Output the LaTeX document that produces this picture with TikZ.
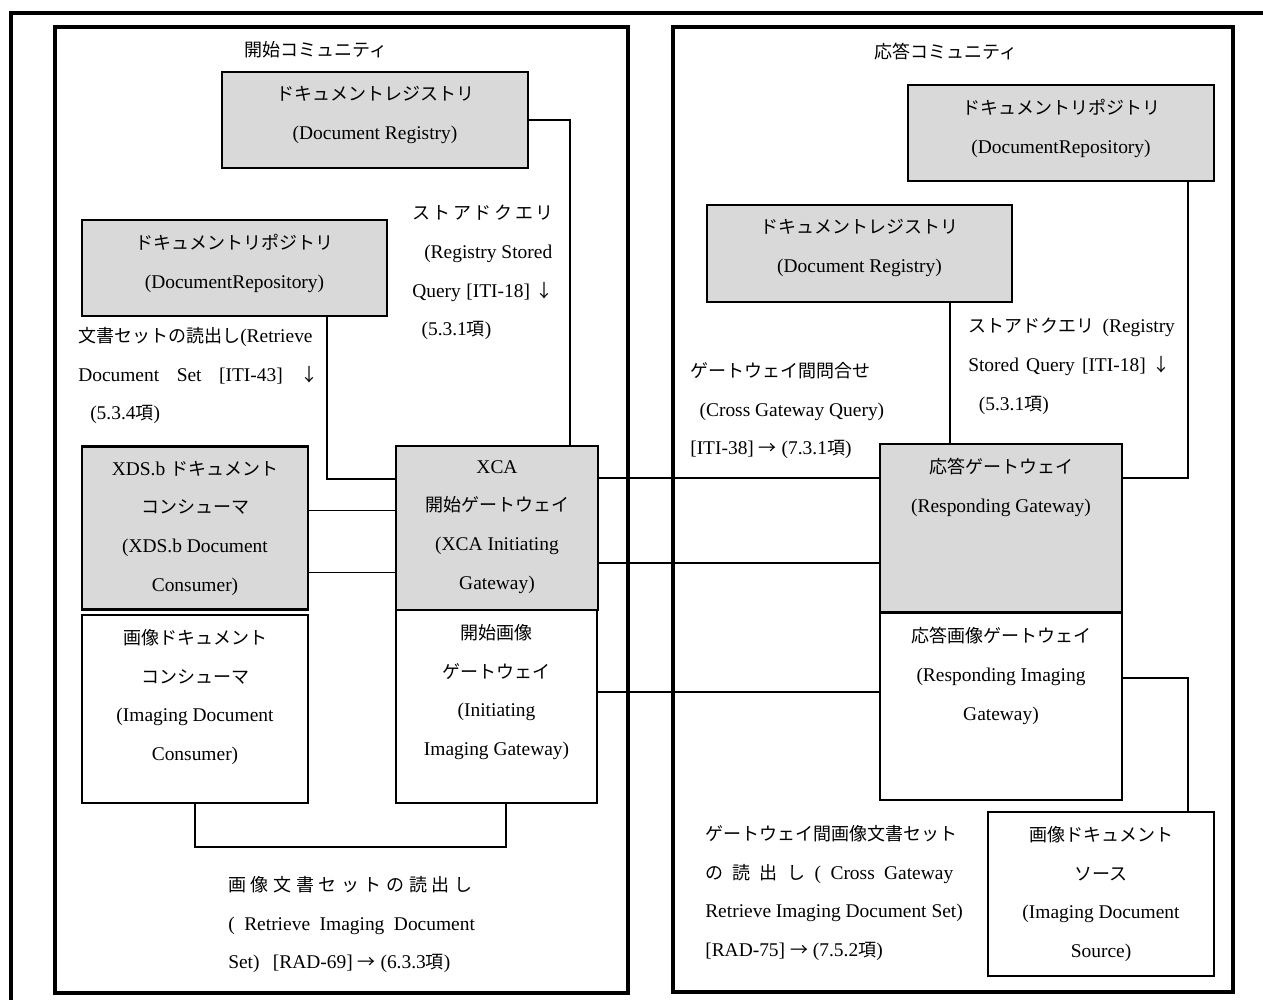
\documentclass[tikz,border=0pt]{standalone}
\usepackage{fontspec}
\setmainfont[Scale=1.08]{Liberation Serif}
\newfontfamily\jpfont{Noto Sans CJK JP}
\newcommand{\jp}[1]{{\jpfont #1}}
\newcommand{\spread}[2]{\makebox[#1][s]{#2}}
\usetikzlibrary{positioning}
\definecolor{boxgray}{RGB}{217,217,217}

\begin{document}
\begin{tikzpicture}[x=0.75pt,y=-0.75pt,
  every node/.style={font=\fontsize{13.5}{29}\selectfont, inner sep=0pt},
  box/.style={draw, line width=2pt, outer sep=0pt},
  gbox/.style={box, fill=boxgray},
  btxt/.style={align=center},
  lbl/.style={align=left, anchor=north west},
  conn/.style={line width=1.1pt}]
\useasboundingbox (0,0) rectangle (1263,1000);
% 0. frames
\draw[line width=3.4pt] (1263,13) -- (11,13) -- (11,1000);
\draw[line width=3pt] (55,27) rectangle (628,993);
\draw[line width=3pt] (673,27) rectangle (1233,992);
\node (titL) at (316,50) {\jp{開始コミュニティ}};
\node (titR) at (946,52) {\jp{応答コミュニティ}};

% 1. 開始コミュニティ
\node[gbox, minimum width=229.5pt, minimum height=72pt] (regL) at (375,120) {};
\node[btxt, below=10.5pt of regL.north] (regLt) {\jp{ドキュメントレジストリ}\\(Document Registry)};
\node[gbox, minimum width=228.75pt, minimum height=72pt] (repL) at (234.5,268) {};
\node[btxt, below=10.5pt of repL.north] (repLt) {\jp{ドキュメントリポジトリ}\\(DocumentRepository)};
\node[gbox, minimum width=169.5pt, minimum height=122.25pt] (xds) at (195,528) {};
\node[btxt, below=10.5pt of xds.north] (xdst) {XDS.b \jp{ドキュメント}\\\jp{コンシューマ}\\(XDS.b Document\\Consumer)};
\node[box, minimum width=169.5pt, minimum height=141pt] (ic) at (195,709) {};
\node[btxt, below=10.5pt of ic.north] (ict) {\jp{画像ドキュメント}\\\jp{コンシューマ}\\(Imaging Document\\Consumer)};
\node[gbox, minimum width=151.5pt, minimum height=123pt] (xca) at (497,528) {};
\node[btxt, below=10.5pt of xca.north] (xcat) {XCA\\\jp{開始ゲートウェイ}\\(XCA Initiating\\Gateway)};
\node[box, minimum width=150.75pt, minimum height=144.75pt] (ig) at (496.5,706.5) {};
\node[btxt, below=10.5pt of ig.north] (igt) {\jp{開始画像}\\\jp{ゲートウェイ}\\(Initiating\\Imaging Gateway)};

\node[lbl] (qL) at (412,205) {\spread{106pt}{\jp{ス\hfill ト\hfill ア\hfill ド\hfill ク\hfill エ\hfill リ}}\\
  \hspace{9pt}(Registry Stored\\
  \spread{106pt}{Query [ITI-18] \jp{↓}}\\
  \hspace{7pt}(5.3.1\jp{項})};
\node[lbl] (rsL) at (78,327) {\jp{文書セットの読出し}(Retrieve\\
  \spread{180pt}{Document\hfill Set\hfill [ITI-43]\hfill\jp{↓}}\\
  \hspace{9pt}(5.3.4\jp{項})};
\node[lbl] (rdL) at (228,876) {\spread{183pt}{\jp{画\hfill 像\hfill 文\hfill 書\hfill セ\hfill ッ\hfill ト\hfill の\hfill 読\hfill 出\hfill し}}\\
  \spread{185pt}{(\hfill Retrieve\hfill Imaging\hfill Document}\\
  Set)\hspace{10pt}[RAD-69] \jp{→} (6.3.3\jp{項})};

\draw[conn] (regL.east) -| ([xshift=-21pt]xca.north east);
\draw[conn] ([xshift=-45pt]repL.south east) |- ([yshift=36.75pt]xca.west);
\draw[conn] ([yshift=13pt]xds.east) -- ([yshift=13pt]xca.west);
\draw[conn] ([yshift=-33.5pt]xds.east) -- ([yshift=-33.5pt]xca.west);
\draw[conn] (ic.south) -- ++(0,44) -| ([xshift=7pt]ig.south);

% 2. 応答コミュニティ
\node[gbox, minimum width=229.5pt, minimum height=72pt] (repR) at (1061,133) {};
\node[btxt, below=10.5pt of repR.north] (repRt) {\jp{ドキュメントリポジトリ}\\(DocumentRepository)};
\node[gbox, minimum width=228.75pt, minimum height=72.75pt] (regR) at (859.5,253.5) {};
\node[btxt, below=10.5pt of regR.north] (regRt) {\jp{ドキュメントレジストリ}\\(Document Registry)};
\node[gbox, minimum width=181.5pt, minimum height=126pt] (rgw) at (1001,528) {};
\node[btxt, below=10.5pt of rgw.north] (rgwt) {\jp{応答ゲートウェイ}\\(Responding Gateway)};
\node[box, minimum width=181.5pt, minimum height=140.25pt] (rig) at (1001,706.5) {};
\node[btxt, below=10.5pt of rig.north] (rigt) {\jp{応答画像ゲートウェイ}\\(Responding Imaging\\Gateway)};
\node[box, minimum width=169.5pt, minimum height=123pt] (src) at (1101,894) {};
\node[btxt, below=10.5pt of src.north] (srct) {\jp{画像ドキュメント}\\\jp{ソース}\\(Imaging Document\\Source)};

\node[lbl] (cqR) at (690,362) {\jp{ゲートウェイ間問合せ}\\
  \hspace{7pt}(Cross Gateway Query)\\
  {}[ITI-38] \jp{→} (7.3.1\jp{項})};
\node[lbl] (sqR) at (968,318) {\spread{155pt}{\jp{ストアドクエリ}\hfill(Registry}\\
  \spread{152pt}{Stored Query [ITI-18] \jp{↓}}\\
  \hspace{8pt}(5.3.1\jp{項})};
\node[lbl] (crR) at (705,825) {\jp{ゲートウェイ間画像文書セット}\\
  \spread{186pt}{\jp{の\hfill 読\hfill 出\hfill し}\hfill (\hfill Cross\hfill Gateway}\\
  Retrieve Imaging Document Set)\\
  {}[RAD-75] \jp{→} (7.5.2\jp{項})};

\draw[conn] ([xshift=-46.5pt]regR.south east) -- ([xshift=-38.25pt]rgw.north);
\draw[conn] ([xshift=-19.5pt]repR.south east) |- ([yshift=37.5pt]rgw.east);
\draw[conn] ([yshift=21.4pt]rig.east) -| ([xshift=-19.5pt]src.north east);

% 3. ゲートウェイ間
\draw[conn] ([yshift=37.5pt]xca.east) -- ([yshift=37.5pt]rgw.west);
\draw[conn] ([yshift=-26.25pt]xca.east) -- ([yshift=-26.25pt]rgw.west);
\draw[conn] ([yshift=10.9pt]ig.east) -- ([yshift=10.9pt]rig.west);
\end{tikzpicture}
\end{document}
